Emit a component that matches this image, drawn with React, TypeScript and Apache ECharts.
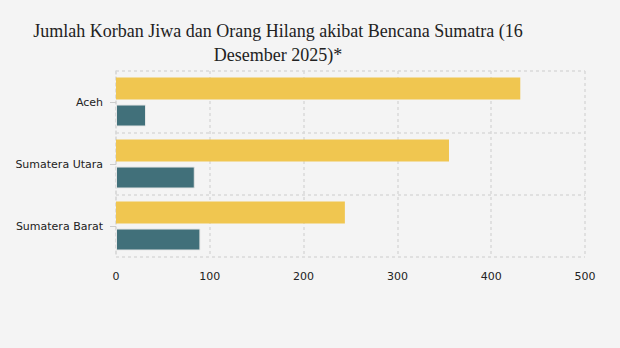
import React, { useEffect, useRef } from "react";
import * as echarts from "echarts";

const categories = ["Aceh", "Sumatera Utara", "Sumatera Barat"];
const korbanJiwa = [431, 355, 244];
const orangHilang = [32, 84, 90];
const xTicks = [0, 100, 200, 300, 400, 500];

export default function App() {
  const ref = useRef<HTMLDivElement>(null);
  useEffect(() => {
    if (!ref.current) return;
    const chart = echarts.init(ref.current, null, { renderer: "svg" });
    chart.setOption({
      animation: false,
      backgroundColor: "#f4f4f4",
      title: {
        text: "Jumlah Korban Jiwa dan Orang Hilang akibat Bencana Sumatra (16\nDesember 2025)*",
        left: 273,
        top: 14,
        textAlign: "center",
        textStyle: {
          fontFamily: "Liberation Serif",
          fontSize: 18,
          fontWeight: "normal",
          color: "#222",
          lineHeight: 24,
        },
      },
      grid: { left: 116, right: 35, top: 71, bottom: 91 },
      xAxis: {
        type: "value",
        min: xTicks[0],
        max: xTicks[xTicks.length - 1],
        interval: 100,
        axisLine: { show: false },
        axisTick: { show: false },
        axisLabel: { fontFamily: "DejaVu Sans", fontSize: 11, color: "#222", margin: 14 },
        splitLine: { show: true, lineStyle: { type: [3, 3], color: "#d9d9d9", width: 1.5 } },
      },
      yAxis: {
        type: "category",
        data: categories,
        inverse: true,
        axisLine: { show: true, lineStyle: { type: [3, 3], color: "#d9d9d9", width: 1.5 } },
        axisTick: { show: true, alignWithLabel: true, length: 6, lineStyle: { color: "#ccc" } },
        axisLabel: { fontFamily: "DejaVu Sans", fontSize: 11, color: "#222", margin: 13 },
        splitLine: { show: true, lineStyle: { type: [3, 3], color: "#d9d9d9", width: 1.5 } },
      },
      series: [
        {
          name: "Korban Jiwa",
          type: "bar",
          data: korbanJiwa,
          barWidth: 22,
          barGap: "23%",
          itemStyle: { color: "#f0c650" },
        },
        {
          name: "Orang Hilang",
          type: "bar",
          data: orangHilang,
          barWidth: 22,
          itemStyle: { color: "#41707a", borderColor: "#e6e6e6", borderWidth: 1 },
        },
      ],
    });
    return () => chart.dispose();
  }, []);
  return <div ref={ref} style={{ width: 620, height: 348, position: "absolute", left: 0, top: 0 }} />;
}
